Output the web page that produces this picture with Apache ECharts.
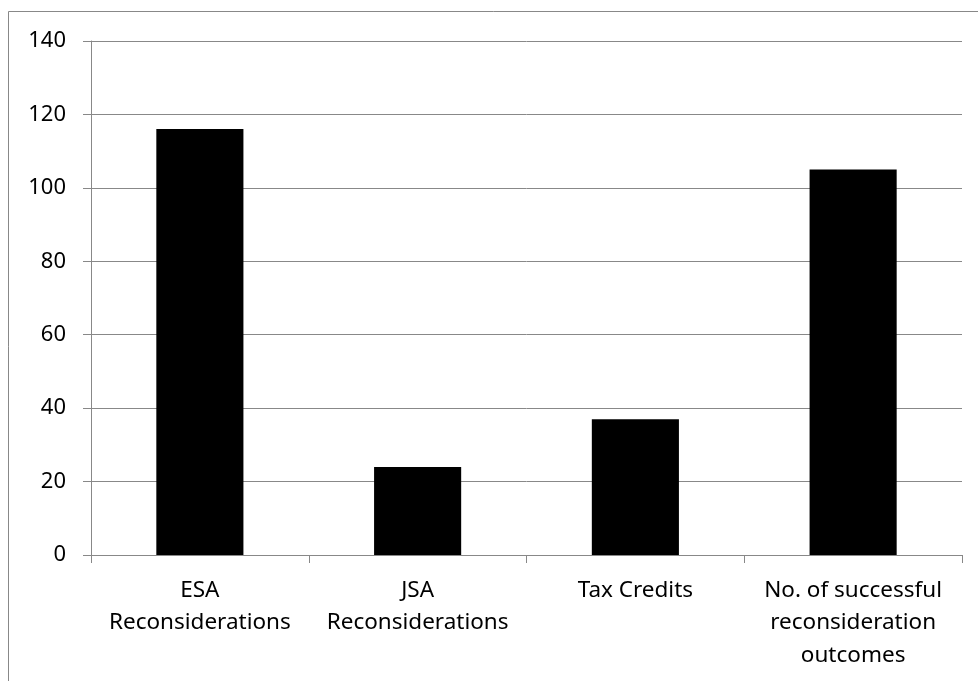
<!DOCTYPE html>
<html><head><meta charset="utf-8">
<script src="https://cdn.jsdelivr.net/npm/echarts@6/dist/echarts.min.js"></script>
<style>html,body{margin:0;padding:0;background:#fff}#c{width:978px;height:681px}</style>
</head><body><div id="c"></div>
<script>
const categories = ["ESA\nReconsiderations", "JSA\nReconsiderations", "Tax Credits", "No. of successful\nreconsideration\noutcomes"];
const values = [116, 24, 37, 105];
const yTicks = [0, 20, 40, 60, 80, 100, 120, 140];

const chart = echarts.init(document.getElementById('c'), null, {renderer: 'canvas'});
const font = '"Noto Sans", "Open Sans", sans-serif';
chart.setOption({
  animation: false,
  backgroundColor: '#fff',
  graphic: [{
    type: 'rect', shape: {x: 8.5, y: 11.5, width: 1000, height: 1000},
    style: {fill: 'none', stroke: '#888', lineWidth: 1}, silent: true, z: -1
  }],
  grid: {left: 91, right: 16, top: 41, bottom: 126},
  xAxis: {
    type: 'category', data: categories,
    axisLine: {lineStyle: {color: '#888', width: 1}},
    axisTick: {show: true, length: 8, lineStyle: {color: '#888'}},
    axisLabel: {color: '#000', fontFamily: font, fontSize: 22.5, lineHeight: 32.5, margin: 19, interval: 0}
  },
  yAxis: {
    type: 'value', min: yTicks[0], max: yTicks[yTicks.length - 1], interval: 20,
    axisLine: {show: true, lineStyle: {color: '#888', width: 1}},
    axisTick: {show: true, length: 8, lineStyle: {color: '#888'}},
    splitLine: {lineStyle: {color: '#888', width: 1}},
    axisLabel: {color: '#000', fontFamily: font, fontSize: 22, margin: 25}
  },
  series: [{
    type: 'bar', data: values, barWidth: '40%',
    itemStyle: {color: '#000'}
  }]
});
</script></body></html>
